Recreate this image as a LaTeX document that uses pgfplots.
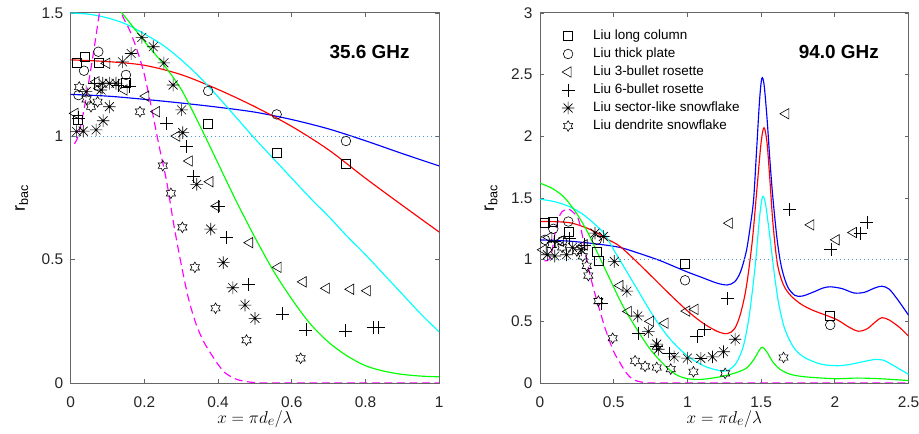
\documentclass[border=0pt]{standalone}
\usepackage{fontspec}
\setmainfont{Liberation Sans}
\usepackage{pgfplots}
\pgfplotsset{compat=1.18}

\pgfdeclareplotmark{ast8}{%
  \pgfpathmoveto{\pgfqpoint{-\pgfplotmarksize}{0pt}}\pgfpathlineto{\pgfqpoint{\pgfplotmarksize}{0pt}}%
  \pgfpathmoveto{\pgfqpoint{0pt}{-\pgfplotmarksize}}\pgfpathlineto{\pgfqpoint{0pt}{\pgfplotmarksize}}%
  \pgfpathmoveto{\pgfpointpolar{45}{\pgfplotmarksize}}\pgfpathlineto{\pgfpointpolar{225}{\pgfplotmarksize}}%
  \pgfpathmoveto{\pgfpointpolar{135}{\pgfplotmarksize}}\pgfpathlineto{\pgfpointpolar{315}{\pgfplotmarksize}}%
  \pgfusepathqstroke}
\pgfdeclareplotmark{hexagram}{%
  \pgfpathmoveto{\pgfpointpolar{90}{\pgfplotmarksize}}%
  \pgfpathlineto{\pgfpointpolar{120}{0.577*\pgfplotmarksize}}%
  \pgfpathlineto{\pgfpointpolar{150}{\pgfplotmarksize}}%
  \pgfpathlineto{\pgfpointpolar{180}{0.577*\pgfplotmarksize}}%
  \pgfpathlineto{\pgfpointpolar{210}{\pgfplotmarksize}}%
  \pgfpathlineto{\pgfpointpolar{240}{0.577*\pgfplotmarksize}}%
  \pgfpathlineto{\pgfpointpolar{270}{\pgfplotmarksize}}%
  \pgfpathlineto{\pgfpointpolar{300}{0.577*\pgfplotmarksize}}%
  \pgfpathlineto{\pgfpointpolar{330}{\pgfplotmarksize}}%
  \pgfpathlineto{\pgfpointpolar{0}{0.577*\pgfplotmarksize}}%
  \pgfpathlineto{\pgfpointpolar{30}{\pgfplotmarksize}}%
  \pgfpathlineto{\pgfpointpolar{60}{0.577*\pgfplotmarksize}}%
  \pgfpathclose\pgfusepathqstroke}

\definecolor{dotblue}{rgb}{0.3,0.6,0.85}
\definecolor{axgray}{gray}{0.4}
\definecolor{labgray}{gray}{0.15}
\definecolor{cB}{rgb}{0,0,1}
\definecolor{cR}{rgb}{1,0,0}
\definecolor{cC}{rgb}{0,1,1}
\definecolor{cG}{rgb}{0,1,0}
\definecolor{cM}{rgb}{1,0,1}

\pgfplotsset{
  base/.style={scale only axis, width=368.5bp, height=370bp,
    axis line style={axgray, line width=1bp},
    tick style={axgray, line width=0.8bp},
    major tick length=4bp, tick align=inside,
    /pgf/number format/assume math mode=true,
    ticklabel style={font=\fontsize{15.5}{18}\selectfont, text=labgray},
    xticklabel style={yshift=-10bp},
    yticklabel style={xshift=-4bp},
    xlabel style={font=\fontsize{19}{22}\selectfont, at={(axis description cs:0.5,-0.097)}, anchor=center},
    ylabel style={font=\fontsize{18}{21}\selectfont, at={(axis description cs:-0.133,0.5)}, anchor=center},
  },
  mk/.style={only marks, mark options={solid, draw=black, fill=none, line width=0.6bp}},
  sq/.style={mk, mark=square, mark size=4.5bp},
  ci/.style={mk, mark=o, mark size=4.8bp},
  tr/.style={only marks, mark=triangle, mark size=6bp, mark options={solid, draw=black, fill=none, line width=0.6bp, rotate=90}},
  pl/.style={mk, mark=+, mark size=6.5bp},
  as/.style={mk, mark=ast8, mark size=6.3bp},
  hx/.style={mk, mark=hexagram, mark size=5.3bp},
  cv/.style={no marks, smooth, line width=1.15bp, forget plot},
  dl/.style={dotblue, dash pattern=on 1.3bp off 2.7bp, line width=1.2bp, forget plot},
}

\begin{document}
\begin{tikzpicture}
\path[use as bounding box] (0,0) rectangle (919bp,434bp);

% ---------------- left panel: 35.6 GHz ----------------
\begin{axis}[base, at={(70.7bp,51bp)}, anchor=south west,
  xmin=0, xmax=1, ymin=0, ymax=1.5,
  xtick={0,0.2,0.4,0.6,0.8,1}, ytick={0,0.5,1,1.5},
  xticklabels={0,0.2,0.4,0.6,0.8,1}, yticklabels={0,0.5,1,1.5},
  xlabel={$x = \pi d_e/\lambda$}, ylabel={r\textsubscript{bac}}]
\addplot[cv, cB] coordinates {(0,1.17)(0.1,1.163)(0.2,1.15)(0.3,1.135)(0.4,1.118)(0.5,1.098)(0.6,1.068)(0.7,1.03)(0.8,0.982)(0.9,0.93)(1.0,0.88)};
\addplot[cv, cR] coordinates {(0,1.31)(0.1,1.303)(0.2,1.288)(0.3,1.25)(0.4,1.19)(0.5,1.12)(0.6,1.04)(0.7,0.945)(0.8,0.83)(0.9,0.72)(1.0,0.612)};
\addplot[cv, cC] coordinates {(0,1.5)(0.05,1.495)(0.1,1.48)(0.15,1.455)(0.2,1.415)(0.25,1.37)(0.3,1.31)(0.35,1.24)(0.4,1.16)(0.45,1.075)(0.5,0.99)(0.55,0.91)(0.6,0.83)(0.65,0.75)(0.7,0.675)(0.75,0.595)(0.8,0.52)(0.85,0.44)(0.9,0.36)(0.95,0.28)(1.0,0.207)};
\addplot[cv, cG] coordinates {(0,1.66)(0.05,1.63)(0.1,1.57)(0.15,1.48)(0.2,1.385)(0.25,1.295)(0.3,1.19)(0.35,1.045)(0.4,0.89)(0.45,0.735)(0.5,0.59)(0.55,0.455)(0.6,0.34)(0.65,0.24)(0.7,0.165)(0.75,0.11)(0.8,0.07)(0.85,0.048)(0.9,0.035)(0.95,0.028)(1.0,0.025)};
\addplot[cv, cM, dash pattern=on 8bp off 4.5bp] coordinates {(0.01,0.97)(0.02,1.0)(0.035,1.1)(0.05,1.23)(0.065,1.37)(0.08,1.52)(0.09,1.59)(0.1,1.62)(0.11,1.61)(0.12,1.58)(0.13,1.54)(0.14,1.49)(0.16,1.43)(0.18,1.35)(0.2,1.25)(0.22,1.11)(0.24,0.96)(0.26,0.82)(0.28,0.64)(0.3,0.48)(0.32,0.34)(0.34,0.24)(0.36,0.17)(0.38,0.12)(0.4,0.075)(0.42,0.04)(0.45,0.015)(0.48,0.005)(0.52,0)(0.6,0)(0.8,0)(1.0,0)};
\addplot[dl] coordinates {(0,1)(1,1)};
\addplot[sq] coordinates {(0.017,1.30)(0.039,1.323)(0.076,1.30)(0.15,1.215)(0.019,1.066)(0.373,1.05)(0.559,0.935)(0.747,0.89)};
\addplot[ci] coordinates {(0.075,1.343)(0.036,1.266)(0.15,1.249)(0.021,1.167)(0.373,1.184)(0.559,1.089)(0.747,0.981)};
\addplot[tr] coordinates {(0.098,1.296)(0.012,1.093)(0.069,1.221)(0.078,1.195)(0.145,1.188)(0.204,1.163)(0.233,1.10)(0.288,1.001)(0.322,0.90)(0.378,0.816)(0.396,0.717)(0.486,0.569)(0.563,0.469)(0.631,0.41)(0.694,0.384)(0.76,0.38)(0.805,0.374)};
\addplot[pl] coordinates {(0.02,1.075)(0.064,1.215)(0.128,1.208)(0.159,1.201)(0.259,1.053)(0.313,0.958)(0.333,0.836)(0.40,0.715)(0.423,0.59)(0.482,0.40)(0.575,0.28)(0.638,0.215)(0.746,0.211)(0.821,0.226)(0.835,0.224)};
\addplot[as] coordinates {(0.016,1.019)(0.034,1.021)(0.069,1.026)(0.088,1.063)(0.105,1.12)(0.042,1.181)(0.087,1.215)(0.105,1.215)(0.123,1.215)(0.082,1.188)(0.141,1.302)(0.164,1.336)(0.193,1.401)(0.224,1.363)(0.253,1.298)(0.278,1.208)(0.301,1.107)(0.304,1.015)(0.342,0.805)(0.38,0.624)(0.414,0.488)(0.44,0.386)(0.473,0.316)(0.50,0.262)};
\addplot[hx] coordinates {(0.023,1.20)(0.055,1.12)(0.073,1.14)(0.043,1.15)(0.188,1.10)(0.25,0.881)(0.272,0.769)(0.303,0.631)(0.337,0.469)(0.393,0.303)(0.477,0.174)(0.624,0.10)};
\node[font=\bfseries\fontsize{19}{22}\selectfont] at (axis cs:0.811,1.342) {35.6 GHz};
\end{axis}

% ---------------- right panel: 94.0 GHz ----------------
\begin{axis}[base, at={(540bp,51bp)}, anchor=south west,
  xmin=0, xmax=2.5, ymin=0, ymax=3,
  xtick={0,0.5,1,1.5,2,2.5}, ytick={0,0.5,1,1.5,2,2.5,3},
  xticklabels={0,0.5,1,1.5,2,2.5}, yticklabels={0,0.5,1,1.5,2,2.5,3},
  xlabel={$x = \pi d_e/\lambda$}, ylabel={r\textsubscript{bac}},
  legend cell align=left,
  legend style={draw=none, fill=none, at={(0.05,0.968)}, anchor=north west,
    font=\fontsize{13.5}{16}\selectfont, row sep=0pt,
    nodes={text height=10bp, text depth=3bp, inner sep=2.5bp},
    /tikz/every odd column/.append style={column sep=16bp}}]
\addplot[cv, cB] coordinates {(0,1.16)(0.2,1.15)(0.4,1.125)(0.54,1.10)(0.65,1.06)(0.75,1.02)(0.82,0.99)(0.9,0.95)(1.0,0.9)(1.1,0.855)(1.2,0.81)(1.27,0.795)(1.32,0.82)(1.36,0.9)(1.4,1.07)(1.43,1.3)(1.45,1.5)(1.47,1.9)(1.49,2.3)(1.505,2.47)(1.52,2.42)(1.54,2.15)(1.56,1.8)(1.58,1.5)(1.61,1.15)(1.64,0.93)(1.68,0.78)(1.73,0.71)(1.78,0.705)(1.85,0.735)(1.92,0.77)(1.97,0.78)(2.05,0.765)(2.13,0.73)(2.2,0.735)(2.27,0.77)(2.32,0.785)(2.37,0.76)(2.43,0.67)(2.5,0.55)};
\addplot[cv, cR] coordinates {(0,1.31)(0.2,1.30)(0.35,1.24)(0.45,1.17)(0.54,1.11)(0.65,0.99)(0.77,0.85)(0.88,0.72)(1.0,0.585)(1.1,0.49)(1.2,0.42)(1.27,0.40)(1.32,0.44)(1.36,0.56)(1.4,0.78)(1.44,1.15)(1.47,1.55)(1.5,1.95)(1.52,2.07)(1.54,1.95)(1.56,1.64)(1.58,1.3)(1.61,0.97)(1.65,0.8)(1.7,0.71)(1.77,0.64)(1.85,0.59)(1.95,0.545)(2.02,0.51)(2.1,0.45)(2.16,0.42)(2.22,0.44)(2.28,0.5)(2.32,0.53)(2.37,0.51)(2.44,0.45)(2.5,0.38)};
\addplot[cv, cC] coordinates {(0,1.49)(0.1,1.47)(0.2,1.43)(0.3,1.36)(0.43,1.22)(0.5,1.08)(0.55,0.98)(0.66,0.76)(0.77,0.54)(0.88,0.36)(1.0,0.22)(1.11,0.14)(1.2,0.105)(1.27,0.1)(1.33,0.16)(1.38,0.3)(1.42,0.55)(1.46,0.95)(1.49,1.35)(1.51,1.51)(1.53,1.45)(1.56,1.18)(1.59,0.88)(1.62,0.64)(1.66,0.44)(1.72,0.29)(1.79,0.21)(1.9,0.155)(2.01,0.14)(2.1,0.15)(2.2,0.175)(2.27,0.19)(2.33,0.185)(2.4,0.14)(2.5,0.07)};
\addplot[cv, cG] coordinates {(0,1.62)(0.08,1.58)(0.16,1.51)(0.24,1.39)(0.32,1.23)(0.4,1.03)(0.475,0.84)(0.56,0.63)(0.66,0.43)(0.75,0.27)(0.84,0.15)(0.92,0.07)(1.0,0.035)(1.1,0.03)(1.22,0.05)(1.32,0.08)(1.4,0.12)(1.45,0.19)(1.49,0.27)(1.51,0.29)(1.54,0.25)(1.58,0.17)(1.63,0.11)(1.7,0.07)(1.8,0.05)(2.0,0.035)(2.15,0.04)(2.3,0.035)(2.5,0.02)};
\addplot[cv, cM, dash pattern=on 8bp off 4.5bp] coordinates {(0.03,0.99)(0.06,1.0)(0.08,1.06)(0.1,1.2)(0.125,1.33)(0.15,1.39)(0.19,1.41)(0.22,1.39)(0.26,1.33)(0.29,1.18)(0.32,0.98)(0.36,0.78)(0.41,0.57)(0.44,0.45)(0.475,0.33)(0.51,0.23)(0.54,0.17)(0.58,0.09)(0.63,0.03)(0.7,0.005)(0.8,0)(1.5,0)(2.5,0)};
\addplot[dl] coordinates {(0,1)(2.5,1)};
\addplot[sq] coordinates {(0.034,1.295)(0.09,1.305)(0.192,1.228)(0.385,1.063)(0.398,0.99)(0.984,0.968)(1.969,0.543)};
\addlegendentry{Liu long column}
\addplot[ci] coordinates {(0.034,1.161)(0.09,1.25)(0.192,1.309)(0.385,1.161)(0.15,1.15)(0.984,0.833)(1.969,0.47)};
\addlegendentry{Liu thick plate}
\addplot[tr] coordinates {(0.022,1.08)(0.06,1.18)(0.14,1.15)(0.3,1.12)(0.543,0.79)(0.60,0.58)(0.75,0.50)(0.849,0.485)(0.996,0.583)(1.052,0.597)(1.285,1.296)(1.668,2.183)(1.838,1.282)(2.01,1.161)(2.127,1.22)};
\addlegendentry{Liu 3-bullet rosette}
\addplot[pl] coordinates {(0.1,1.15)(0.2,1.17)(0.3,1.12)(0.419,0.645)(0.67,0.405)(0.792,0.30)(0.878,0.242)(1.064,0.376)(1.113,0.435)(1.274,0.683)(1.693,1.409)(1.973,1.086)(2.172,1.215)(2.218,1.30)};
\addlegendentry{Liu 6-bullet rosette}
\addplot[as] coordinates {(0.05,1.04)(0.1,1.03)(0.18,1.04)(0.22,1.1)(0.28,1.08)(0.373,1.215)(0.43,1.188)(0.504,0.986)(0.589,0.745)(0.663,0.543)(0.735,0.417)(0.792,0.315)(0.803,0.274)(0.91,0.212)(1.0,0.202)(1.091,0.199)(1.17,0.212)(1.245,0.253)(1.324,0.355)};
\addlegendentry{Liu sector-like snowflake}
\addplot[hx] coordinates {(0.08,1.12)(0.15,1.10)(0.25,1.07)(0.29,1.027)(0.317,0.95)(0.328,0.871)(0.396,0.664)(0.493,0.363)(0.645,0.18)(0.713,0.135)(0.792,0.126)(0.887,0.113)(1.041,0.091)(1.256,0.078)(1.652,0.207)};
\addlegendentry{Liu dendrite snowflake}
\node[font=\bfseries\fontsize{19}{22}\selectfont] at (axis cs:2.027,2.68) {94.0 GHz};
\end{axis}
\end{tikzpicture}
\end{document}
